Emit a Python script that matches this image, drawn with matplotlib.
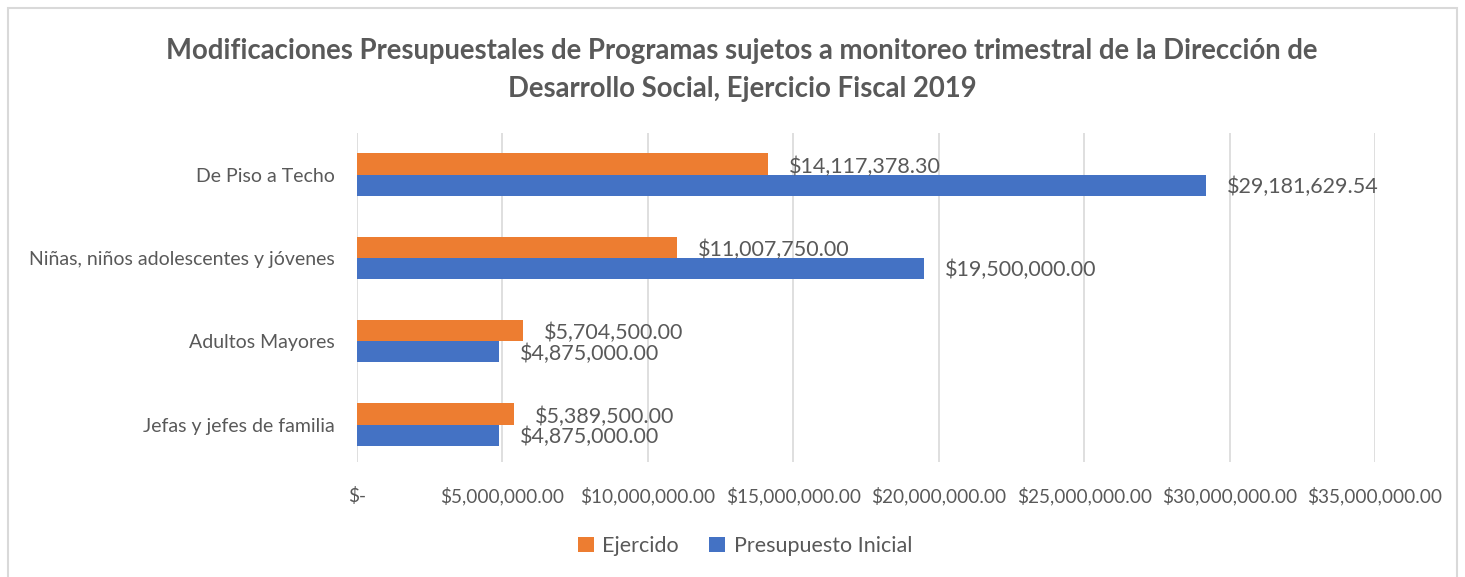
import matplotlib
matplotlib.use("Agg")
from matplotlib import pyplot as plt
from matplotlib.patches import Rectangle
import numpy as np

categories = ["Jefas y jefes de familia", "Adultos Mayores",
              "Niñas, niños adolescentes y jóvenes", "De Piso a Techo"]
ejercido = [5389500.00, 5704500.00, 11007750.00, 14117378.30]
presupuesto = [4875000.00, 4875000.00, 19500000.00, 29181629.54]
x_ticks = [0, 5e6, 10e6, 15e6, 20e6, 25e6, 30e6, 35e6]

GRAY = "#595959"
ORANGE = "#ED7D31"
BLUE = "#4472C4"

plt.rcParams['font.family'] = ['Lato', 'DejaVu Sans']


def money(v):
    return "$-" if v == 0 else "${:,.2f}".format(v)


def main():
    fig = plt.figure(figsize=(14.65, 5.77), dpi=100)
    fig.patches.append(Rectangle((8 / 1465, -0.01), 1449 / 1465, 1 - 8 / 577 + 0.01,
                                 transform=fig.transFigure, fill=False,
                                 edgecolor="#D9D9D9", linewidth=1.5))
    ax = fig.add_axes([357 / 1465, 115 / 577, 1018 / 1465, 329 / 577])

    y = np.arange(len(categories))
    h = 0.255
    ax.barh(y + h / 2, ejercido, height=h, color=ORANGE, label="Ejercido", zorder=3)
    ax.barh(y - h / 2, presupuesto, height=h, color=BLUE, label="Presupuesto Inicial", zorder=3)

    for yi, v in zip(y, ejercido):
        ax.annotate(money(v), (v, yi + h / 2 - 0.03), xytext=(15, 0), textcoords="offset points",
                    va="center", ha="left", fontsize=15.5, color=GRAY)
    for yi, v in zip(y, presupuesto):
        ax.annotate(money(v), (v, yi - h / 2 - 0.02), xytext=(15, 0), textcoords="offset points",
                    va="center", ha="left", fontsize=15.5, color=GRAY)

    ax.set_xlim(0, 35e6)
    ax.set_ylim(-0.45, 3.5)
    ax.set_xticks(x_ticks)
    ax.set_xticklabels([money(t) for t in x_ticks], fontsize=13.7, color=GRAY)
    ax.set_yticks(y)
    ax.set_yticklabels(categories, fontsize=14, color=GRAY)
    ax.tick_params(axis="x", length=0, pad=18)
    ax.tick_params(axis="y", length=0, pad=16)
    ax.grid(axis="x", color="#D9D9D9", linewidth=1.2, zorder=0)
    for s in ax.spines.values():
        s.set_visible(False)

    fig.suptitle("Modificaciones Presupuestales de Programas sujetos a monitoreo trimestral de la Dirección de\n"
                 "Desarrollo Social, Ejercicio Fiscal 2019",
                 x=742 / 1465, y=0.935, fontsize=19.8, fontweight="bold", color=GRAY,
                 linespacing=1.6)

    fig.legend(loc="center", bbox_to_anchor=(745 / 1465, 1 - 546 / 577), ncol=2,
               frameon=False, fontsize=15.5, labelcolor=GRAY, handlelength=0.75,
               handleheight=0.75, columnspacing=1.4, handletextpad=0.4)

    fig.savefig("out.png", dpi=100)


if __name__ == "__main__":
    main()
